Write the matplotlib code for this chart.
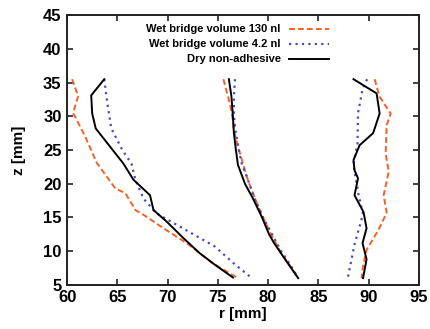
import matplotlib
matplotlib.use("Agg")
import matplotlib.pyplot as plt

plt.rcParams["font.family"] = ["Liberation Sans", "DejaVu Sans"]
plt.rcParams["font.weight"] = "bold"

# profiles r(z), three branches per condition (left / middle / right)
z_wet130_left = [35.5, 33.0, 30.5, 27.0, 23.1, 19.3, 18.6, 16.1, 15.4, 13.1, 11.2, 8.2, 6.0]
r_wet130_left = [60.5, 61.1, 60.6, 61.8, 62.95, 64.8, 65.8, 66.8, 67.6, 69.9, 71.9, 74.5, 77.0]
z_wet130_mid = [35.5, 33.0, 30.5, 28.0, 25.5, 23.0, 20.5, 17.8, 15.0, 12.5, 10.0, 8.0, 6.0]
r_wet130_mid = [75.55, 76.0, 76.4, 76.6, 77.0, 77.5, 78.0, 78.7, 79.5, 80.3, 81.2, 82.1, 83.0]
z_wet130_right = [35.5, 32.9, 30.4, 28.7, 24.5, 21.8, 18.3, 15.7, 13.2, 10.2, 7.8, 6.0]
r_wet130_right = [90.6, 91.1, 92.2, 91.8, 91.7, 92.0, 91.5, 91.8, 91.0, 89.8, 89.45, 89.3]

z_wet42_left = [35.5, 32.0, 28.2, 25.0, 23.0, 20.6, 17.8, 15.6, 10.7, 8.3, 6.0]
r_wet42_left = [63.7, 64.0, 64.4, 65.5, 66.4, 66.8, 67.6, 68.9, 74.7, 76.5, 78.4]
z_wet42_mid = [35.5, 33.0, 30.0, 27.5, 25.0, 22.8, 21.0, 18.0, 15.0, 12.5, 10.0, 8.0, 6.0]
r_wet42_mid = [76.7, 76.6, 76.6, 76.8, 77.1, 77.4, 77.9, 78.6, 79.5, 80.4, 81.3, 82.2, 83.0]
z_wet42_right = [35.5, 34.0, 30.5, 26.0, 23.0, 21.9, 18.4, 15.5, 11.0, 6.2]
r_wet42_right = [89.85, 89.4, 88.95, 88.9, 88.5, 88.6, 89.0, 89.45, 88.6, 87.95]

z_dry_left = [35.5, 33.1, 30.4, 28.2, 23.0, 20.6, 18.3, 16.1, 14.4, 11.9, 9.7, 8.0, 6.1]
r_dry_left = [63.7, 62.4, 62.5, 62.85, 65.6, 66.6, 68.25, 68.6, 69.9, 71.6, 73.2, 74.7, 76.5]
z_dry_mid = [35.5, 33.0, 30.0, 27.5, 25.0, 22.8, 20.0, 17.8, 15.0, 12.5, 11.2, 9.0, 6.0]
r_dry_mid = [76.1, 76.35, 76.5, 76.6, 76.8, 77.0, 77.7, 78.5, 79.4, 80.1, 80.6, 81.6, 83.0]
z_dry_right = [35.5, 33.4, 30.4, 27.5, 25.7, 23.5, 22.0, 20.8, 18.3, 15.8, 13.4, 11.2, 8.8, 6.0]
r_dry_right = [88.5, 90.8, 91.1, 90.45, 89.1, 88.5, 88.6, 88.95, 88.6, 89.5, 89.8, 89.4, 89.8, 89.45]

labels = ["Wet bridge volume 130 nl", "Wet bridge volume 4.2 nl", "Dry non-adhesive"]

fig = plt.figure(figsize=(4.3, 3.29), dpi=100)
ax = fig.add_axes([0.156, 0.134, 0.818, 0.820])

orange = dict(color="#f4602a", ls=(0, (3.0, 1.6)), lw=1.4)
blue = dict(color="#4a4ac4", ls=(0, (1.0, 1.9)), lw=1.6)
black = dict(color="black", ls="-", lw=1.4)

ax.plot(r_wet130_left, z_wet130_left, label=labels[0], **orange)
ax.plot(r_wet130_mid, z_wet130_mid, **orange)
ax.plot(r_wet130_right, z_wet130_right, **orange)
ax.plot(r_wet42_left, z_wet42_left, label=labels[1], **blue)
ax.plot(r_wet42_mid, z_wet42_mid, **blue)
ax.plot(r_wet42_right, z_wet42_right, **blue)
ax.plot(r_dry_left, z_dry_left, label=labels[2], **black)
ax.plot(r_dry_mid, z_dry_mid, **black)
ax.plot(r_dry_right, z_dry_right, **black)

ax.set_xlim(60, 95)
ax.set_ylim(5, 45)
ax.set_xticks(range(60, 96, 5))
ax.set_yticks(range(5, 46, 5))
ax.tick_params(direction="in", top=True, right=True, length=4, width=1.2,
               labelsize=12, pad=4, color="#222222")
for lab in ax.get_xticklabels() + ax.get_yticklabels():
    lab.set_fontweight("bold")
for s in ax.spines.values():
    s.set_linewidth(1.4)
    s.set_color("#222222")

ax.set_xlabel("r [mm]", fontsize=11, fontweight="bold", labelpad=1)
ax.set_ylabel("z [mm]", fontsize=11, fontweight="bold", labelpad=12)

leg = ax.legend(loc="upper right", bbox_to_anchor=(0.765, 0.99), frameon=False,
                markerfirst=False, fontsize=8, handlelength=3.6,
                labelspacing=0.45, handletextpad=0.8, borderaxespad=0.2)
for t in leg.get_texts():
    t.set_fontweight("bold")

fig.savefig("out.png", dpi=100)
